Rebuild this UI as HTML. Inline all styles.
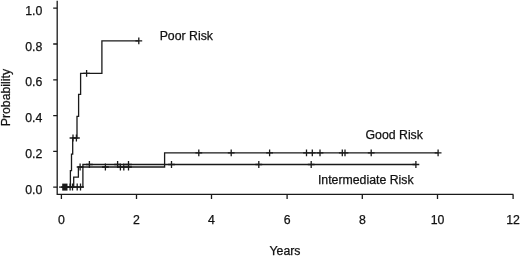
<!DOCTYPE html>
<html><head><meta charset="utf-8"><style>
html,body{margin:0;padding:0;background:#fff;}
body{width:520px;height:256px;overflow:hidden;}
svg{display:block;filter:grayscale(1);}
text{font-family:"Liberation Sans",sans-serif;font-size:12.3px;fill:#111;stroke:#111;stroke-width:0.25px;}
</style></head><body>
<svg width="520" height="256" viewBox="0 0 520 256" xmlns="http://www.w3.org/2000/svg">
<path d="M57.2 0.8V194.4H513.4" fill="none" stroke="#1a1a1a" stroke-width="1.3"/>
<path d="M53.2 8.2H57.2M53.2 44.0H57.2M53.2 79.8H57.2M53.2 115.6H57.2M53.2 151.3H57.2M53.2 187.1H57.2" stroke="#1a1a1a" stroke-width="1.3"/>
<text x="42.3" y="14.7" text-anchor="end">1.0</text>
<text x="42.3" y="50.5" text-anchor="end">0.8</text>
<text x="42.3" y="86.3" text-anchor="end">0.6</text>
<text x="42.3" y="122.1" text-anchor="end">0.4</text>
<text x="42.3" y="157.8" text-anchor="end">0.2</text>
<text x="42.3" y="193.6" text-anchor="end">0.0</text>
<path d="M61.4 194.4V199M136.5 194.4V199M211.5 194.4V199M287.1 194.4V199M362.3 194.4V199M437.5 194.4V199M513.1 194.4V199" stroke="#1a1a1a" stroke-width="1.3"/>
<text x="61.4" y="224" text-anchor="middle">0</text>
<text x="136.5" y="224" text-anchor="middle">2</text>
<text x="211.5" y="224" text-anchor="middle">4</text>
<text x="287.1" y="224" text-anchor="middle">6</text>
<text x="362.3" y="224" text-anchor="middle">8</text>
<text x="437.5" y="224" text-anchor="middle">10</text>
<text x="513.1" y="224" text-anchor="middle">12</text>
<text x="285" y="254.8" text-anchor="middle">Years</text>
<text transform="translate(9.7 97.6) rotate(-90)" text-anchor="middle">Probability</text>
<text x="159.65" y="40.3">Poor Risk</text>
<text x="365.5" y="138.6">Good Risk</text>
<text x="317.9" y="184.4">Intermediate Risk</text>
<path d="M61.5 187.1H70.4V170.6H71.5V154.1H72.7V138H77V116.4H78.6V94.3H80.6V73.4H101.9V40.9H138.8" fill="none" stroke="#1a1a1a" stroke-width="1.3"/>
<path d="M61.5 187.1H73.7V177.1H78.4V167H164.6V152.8H438.1" fill="none" stroke="#1a1a1a" stroke-width="1.3"/>
<path d="M61.5 187.1H82.9V164.5H415.9" fill="none" stroke="#1a1a1a" stroke-width="1.3"/>
<path d="M69.6 138h6.8M73.0 134.6v6.8M73.0 138h6.8M76.4 134.6v6.8M83.2 73.4h6.8M86.6 70.0v6.8M135.4 40.9h6.8M138.8 37.5v6.8M66.7 187h6.8M70.1 183.6v6.8M69.1 187h6.8M72.5 183.6v6.8M73.8 187h6.8M77.2 183.6v6.8M77.1 187h6.8M80.5 183.6v6.8M76.7 167h6.8M80.1 163.6v6.8M102.0 167h6.8M105.4 163.6v6.8M117.0 167h6.8M120.4 163.6v6.8M120.4 167h6.8M123.8 163.6v6.8M125.1 167h6.8M128.5 163.6v6.8M86.0 164.5h6.8M89.4 161.1v6.8M114.2 164.5h6.8M117.6 161.1v6.8M125.1 164.5h6.8M128.5 161.1v6.8M168.1 164.5h6.8M171.5 161.1v6.8M255.4 164.5h6.8M258.8 161.1v6.8M307.8 164.5h6.8M311.2 161.1v6.8M412.5 164.5h6.8M415.9 161.1v6.8M195.4 152.8h6.8M198.8 149.4v6.8M227.8 152.8h6.8M231.2 149.4v6.8M266.2 152.8h6.8M269.6 149.4v6.8M303.1 152.8h6.8M306.5 149.4v6.8M308.9 152.8h6.8M312.3 149.4v6.8M316.6 152.8h6.8M320.0 149.4v6.8M338.9 152.8h6.8M342.3 149.4v6.8M341.6 152.8h6.8M345.0 149.4v6.8M367.8 152.8h6.8M371.2 149.4v6.8M434.7 152.8h6.8M438.1 149.4v6.8" fill="none" stroke="#1a1a1a" stroke-width="1.3"/>
<rect x="62.2" y="183.6" width="5.3" height="7" fill="#1a1a1a"/>
<path d="M59.1 187.1H62.4" stroke="#1a1a1a" stroke-width="1.3"/>
</svg>
</body></html>
